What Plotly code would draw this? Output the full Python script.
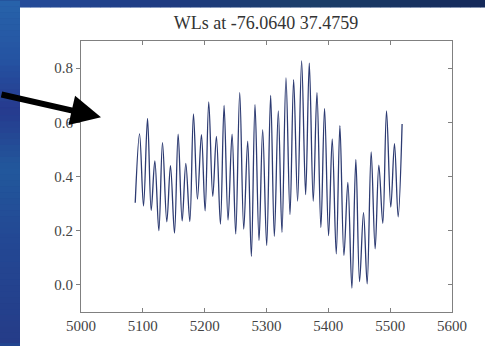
import plotly.graph_objects as go

# Extrema of the water-level series
time_hours = [5087.7, 5094.7, 5101.1, 5107.6, 5113.5, 5119.4, 5125.9, 5131.8, 5138.8, 5144.7,
              5151.2, 5157.1, 5163.6, 5169.5, 5176.0, 5181.9, 5188.3, 5194.8, 5200.7, 5206.6,
              5213.1, 5219.0, 5225.5, 5231.4, 5237.8, 5244.3, 5250.2, 5256.7, 5263.2, 5269.6,
              5275.5, 5281.4, 5287.9, 5293.8, 5300.3, 5306.7, 5312.7, 5319.1, 5325.0, 5331.5,
              5338.0, 5343.9, 5350.3, 5356.8, 5363.3, 5369.2, 5375.6, 5381.6, 5388.0, 5393.9,
              5400.4, 5406.3, 5412.8, 5418.7, 5425.2, 5431.6, 5438.1, 5444.5, 5450.5, 5456.9,
              5462.8, 5469.3, 5475.7, 5481.7, 5488.1, 5494.1, 5501.0, 5507.0, 5512.9, 5519.3]
water_level = [0.303, 0.557, 0.291, 0.614, 0.275, 0.458, 0.200, 0.525, 0.233, 0.440,
               0.191, 0.556, 0.236, 0.448, 0.234, 0.631, 0.317, 0.554, 0.273, 0.675,
               0.327, 0.548, 0.224, 0.662, 0.239, 0.556, 0.188, 0.709, 0.206, 0.530,
               0.105, 0.665, 0.164, 0.573, 0.145, 0.699, 0.179, 0.642, 0.194, 0.764,
               0.260, 0.757, 0.309, 0.827, 0.333, 0.818, 0.309, 0.709, 0.212, 0.651,
               0.182, 0.539, 0.115, 0.588, 0.109, 0.378, -0.012, 0.463, 0.012, 0.267,
               0.004, 0.491, 0.133, 0.442, 0.227, 0.642, 0.287, 0.521, 0.251, 0.594]

x_ticks = [5000, 5100, 5200, 5300, 5400, 5500, 5600]
y_ticks = [0.0, 0.2, 0.4, 0.6, 0.8]
title_text = "WLs at -76.0640 37.4759"

W, H = 485, 346
L, R, T, B = 81, 33, 41, 31
pw, ph = W - L - R, H - T - B

def px_x(p):
    return (p - L) / pw

def px_y(p):
    return (H - B - p) / ph

def hex2rgb(h):
    h = h.lstrip("#")
    return [int(h[i:i + 2], 16) for i in (0, 2, 4)]

def blend(c1, c2, t):
    a, b = hex2rgb(c1), hex2rgb(c2)
    return "rgb(%d,%d,%d)" % tuple(round(a[i] + (b[i] - a[i]) * t) for i in range(3))

fig = go.Figure()
fig.add_trace(go.Scatter(x=time_hours, y=water_level, mode="lines",
                         line=dict(color="#2d3b72", width=1.3, shape="spline", smoothing=1.0),
                         showlegend=False, hoverinfo="skip"))
fig.add_trace(go.Scatter(x=[None], y=[None], yaxis="y2", mode="lines",
                         showlegend=False, hoverinfo="skip"))

shapes = []
shapes.append(dict(type="rect", xref="paper", yref="paper", layer="below",
                   x0=px_x(20), x1=px_x(500), y0=px_y(360), y1=px_y(7),
                   fillcolor="white", line=dict(width=0)))
# slide gradient (left strip): key colours along y
left_keys = [(0, "#2763aa"), (60, "#2553a2"), (110, "#263a8e"), (170, "#22589c"),
             (240, "#234894"), (346, "#253c88")]
step = 6
for k in range(len(left_keys) - 1):
    (ya, ca), (yb, cb) = left_keys[k], left_keys[k + 1]
    y = ya
    while y < yb:
        y2 = min(y + step, yb)
        t = ((y + y2) / 2 - ya) / (yb - ya)
        shapes.append(dict(type="rect", xref="paper", yref="paper", layer="below",
                           x0=px_x(-5), x1=px_x(20), y0=px_y(y2 + 0.5), y1=px_y(y),
                           fillcolor=blend(ca, cb, t), line=dict(width=0)))
        y = y2
top_keys = [(20, "#254c9a"), (160, "#1f3b82"), (320, "#1b3e68"), (490, "#15285a")]
step = 10
for k in range(len(top_keys) - 1):
    (xa, ca), (xb, cb) = top_keys[k], top_keys[k + 1]
    x = xa
    while x < xb:
        x2 = min(x + step, xb)
        t = ((x + x2) / 2 - xa) / (xb - xa)
        shapes.append(dict(type="rect", xref="paper", yref="paper", layer="below",
                           x0=px_x(x), x1=px_x(x2 + 0.5), y0=px_y(7), y1=px_y(-5),
                           fillcolor=blend(ca, cb, t), line=dict(width=0)))
        x = x2

fig.update_layout(
    width=W, height=H,
    margin=dict(l=L, r=R, t=T, b=B),
    paper_bgcolor="#22458f",
    plot_bgcolor="white",
    shapes=shapes,
    title=dict(text=title_text, x=px_x(266), xref="paper", xanchor="center",
               y=1 - 23 / H, yanchor="middle",
               font=dict(family="Liberation Serif", size=18, color="#333333")),
    font=dict(family="Liberation Serif", size=15, color="#444444"),
    xaxis=dict(range=[5000, 5600], tickvals=x_ticks, ticks="inside", ticklen=4,
               tickcolor="#808080", showline=True, linecolor="#808080", linewidth=1.2,
               mirror="ticks", showgrid=False, zeroline=False),
    yaxis=dict(range=[-0.1, 0.9], tickvals=y_ticks, tickformat=".1f", ticks="outside",
               ticklen=4, tickcolor="#808080", showline=True, linecolor="#808080",
               linewidth=1.2, mirror=True, showgrid=False, zeroline=False),
    yaxis2=dict(range=[-0.1, 0.9], overlaying="y", side="right", tickvals=y_ticks,
                ticks="inside", ticklen=4, tickcolor="#808080", showticklabels=False,
                showline=False, showgrid=False, zeroline=False),
    annotations=[dict(x=px_x(101), y=px_y(118), xref="paper", yref="paper", text="",
                      showarrow=True, arrowhead=2, arrowsize=1.0, arrowwidth=6,
                      arrowcolor="black", ax=-110, ay=-23, standoff=0)],
)

fig.write_html("out.html")
